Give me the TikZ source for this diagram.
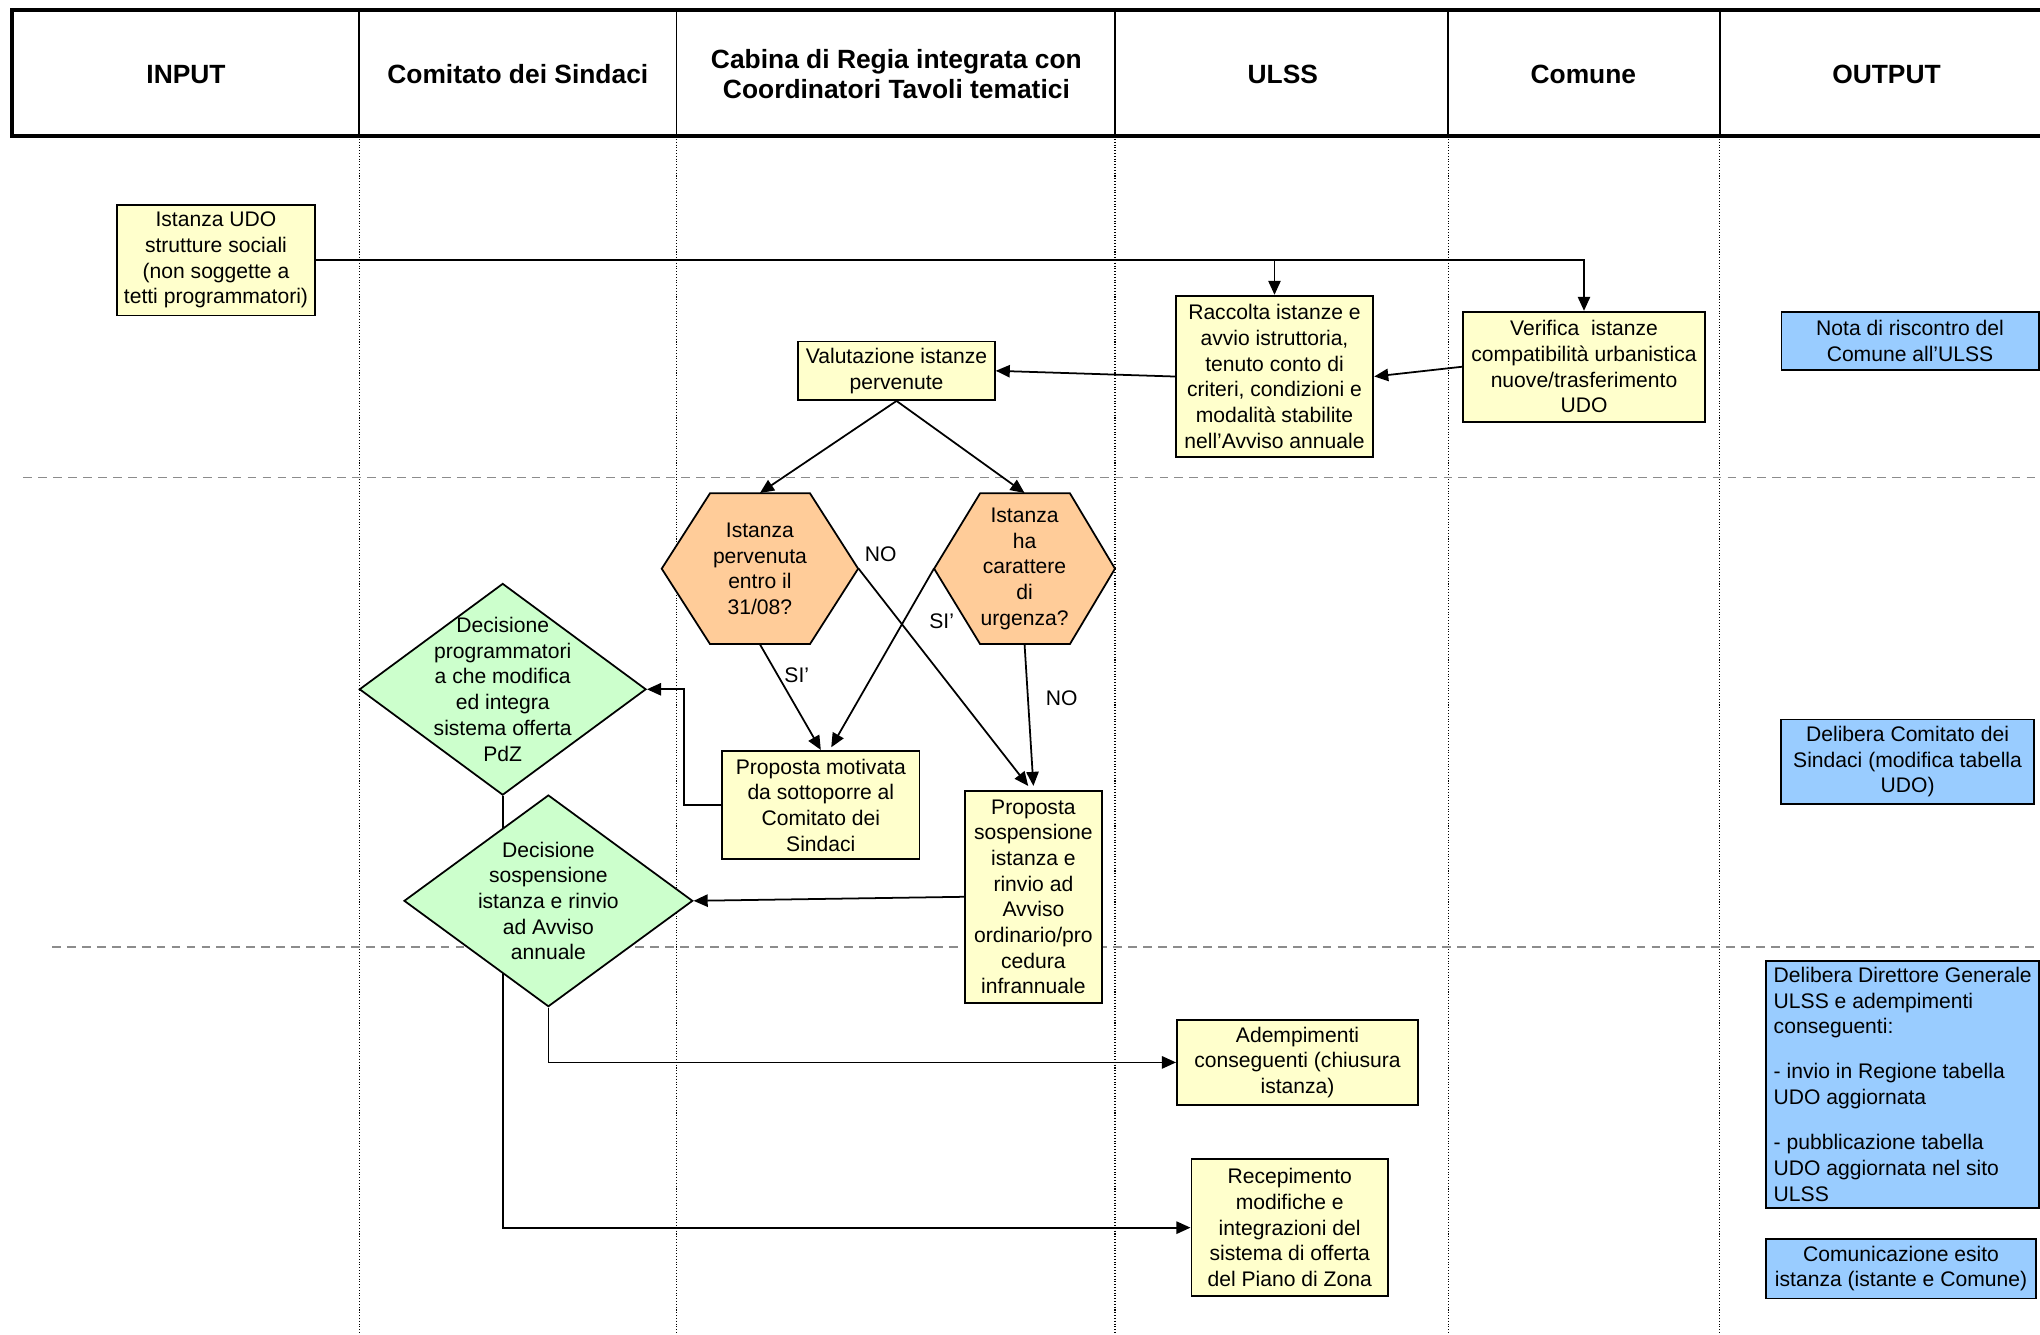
\documentclass[tikz,border=0pt]{standalone}
\usepackage{fontspec}
\setmainfont{Liberation Sans}
\usetikzlibrary{arrows.meta,shapes.geometric,calc}

\definecolor{boxyellow}{HTML}{FFFFCC}
\definecolor{hexorange}{HTML}{FFCC99}
\definecolor{diagreen}{HTML}{CCFFCC}
\definecolor{outblue}{HTML}{99CCFF}

\tikzset{
  box/.style={draw, line width=1pt, fill=boxyellow, align=center, inner sep=1pt,
    font=\fontsize{12}{14.6}\selectfont},
  outbox/.style={box, fill=outblue},
  dec/.style={diamond, draw, line width=1pt, fill=diagreen, inner sep=0pt},
  hexface/.style={draw, line width=1pt, fill=hexorange},
  lbl/.style={align=center, inner sep=0pt, font=\fontsize{12}{14.6}\selectfont},
  hdr/.style={align=center, font=\fontsize{15}{17.5}\selectfont\bfseries},
  flow/.style={->, line width=1pt},
}

\begin{document}
\begin{tikzpicture}[x=0.026cm, y=-0.026cm, >={Triangle[length=8pt,width=7pt]}]
    \useasboundingbox (0,0) rectangle (1568,1026);
    % swimlane header
    \draw[line width=2.2pt] (1568,8) -- (9,8) -- (9,104.6) -- (1568,104.6);
    \foreach \x in {276,520,857,1113,1322}
    \draw[line width=0.8pt] (\x,8) -- (\x,104.6);
    \foreach \x in {276,520,857,1113,1322}
    \draw[densely dotted, line width=0.6pt] (\x,104.6) -- (\x,1026);
    \node[hdr] (hIn) at (143,57) {INPUT};
    \node[hdr] (hCom) at (398,57) {Comitato dei Sindaci};
    \node[hdr] (hCab) at (689,57) {Cabina di Regia integrata con\\Coordinatori Tavoli tematici};
    \node[hdr] (hUlss) at (986,57) {ULSS};
    \node[hdr] (hComune) at (1217,57) {Comune};
    \node[hdr] (hOut) at (1450,57) {OUTPUT};
    % phase separators
    \draw[black!45, line width=1pt, dash pattern=on 5pt off 3.5pt] (18,367) -- (1568,367);
    \draw[black!45, line width=1pt, dash pattern=on 5pt off 3.5pt] (40,728) -- (1568,728);

    % boxes
    \node[box, minimum width=3.95cm, minimum height=2.21cm] (istUDO) at (166,200)
      {Istanza UDO\\strutture sociali\\(non soggette a\\tetti programmatori)};
    \node[box, minimum width=3.95cm, minimum height=3.23cm] (raccolta) at (979.6,289.4)
      {Raccolta istanze e\\avvio istruttoria,\\tenuto conto di\\criteri, condizioni e\\modalità stabilite\\nell’Avviso annuale};
    \node[box, minimum width=4.84cm, minimum height=2.2cm] (verif) at (1217.5,281.9)
      {Verifica~~istanze\\compatibilità urbanistica\\nuove/trasferimento\\UDO};
    \node[box, minimum width=3.93cm, minimum height=1.17cm] (valut) at (689.1,285)
      {Valutazione istanze\\pervenute};
    \node[outbox, minimum width=5.14cm, minimum height=1.16cm] (nota) at (1468.1,262)
      {Nota di riscontro del\\Comune all’ULSS};

    % decision hexagons
    \filldraw[hexface] (508.6,437.1) -- (545.7,379.2) -- (622.6,379.2) -- (659.6,437.1)
      -- (622.6,495) -- (545.7,495) -- cycle;
    \node[lbl, minimum width=3.93cm, minimum height=3.01cm] (hexPerv) at (584.1,437.1)
      {Istanza\\pervenuta\\entro il\\31/08?};
    \filldraw[hexface] (718,437.1) -- (753.3,379.2) -- (822.4,379.2) -- (857,437.1)
      -- (822.4,495) -- (753.3,495) -- cycle;
    \node[lbl, minimum width=3.61cm, minimum height=3.01cm] (hexUrg) at (787.5,437.1)
      {Istanza\\ha\\carattere\\di\\urgenza?};

    \node[box, minimum width=3.94cm, minimum height=2.17cm] (propMot) at (630.9,618.8)
      {Proposta motivata\\da sottoporre al\\Comitato dei\\Sindaci};
    \node[box, minimum width=2.73cm, minimum height=4.24cm] (propSosp) at (794.3,689.3)
      {Proposta\\sospensione\\istanza e\\rinvio ad\\Avviso\\ordinario/pro\\cedura\\infrannuale};
    \node[box, minimum width=4.82cm, minimum height=1.69cm] (adem) at (997.3,816.6)
      {Adempimenti\\conseguenti (chiusura\\istanza)};
    \node[box, minimum width=3.93cm, minimum height=2.74cm] (recep) at (991.3,943.6)
      {Recepimento\\modifiche e\\integrazioni del\\sistema di offerta\\del Piano di Zona};
    \node[outbox, minimum width=5.05cm, minimum height=1.69cm] (delCom) at (1466.2,585.5)
      {Delibera Comitato dei\\Sindaci (modifica tabella\\UDO)};
    \node[outbox, align=left, minimum width=5.46cm, minimum height=4.94cm] (delDir) at (1462.5,833.4)
      {Delibera Direttore Generale\\ULSS e adempimenti\\conseguenti:\\[11pt]- invio in Regione tabella\\UDO aggiornata\\[11pt]- pubblicazione tabella\\UDO aggiornata nel sito\\ULSS};
    \node[outbox, minimum width=5.4cm, minimum height=1.19cm] (comun) at (1461.2,975.1)
      {Comunicazione esito\\istanza (istante e Comune)};

    % diamonds
    \node[dec, minimum width=5.73cm, minimum height=4.23cm] (decProg) at (386.4,529.8) {};
    \node[lbl] (decProgTxt) at (decProg)
      {Decisione\\programmatori\\a che modifica\\ed integra\\sistema offerta\\PdZ};
    \draw[flow] (decProg.south) |- (recep.west);
    \node[dec, minimum width=5.77cm, minimum height=4.23cm] (decSosp) at (421.5,692.4) {};
    \node[lbl] (decSospTxt) at (decSosp)
      {Decisione\\sospensione\\istanza e rinvio\\ad Avviso\\annuale};

    % connectors
    \draw[flow] (istUDO.east) -| (verif.north);
    \draw[flow] (istUDO.east -| raccolta.north) -- (raccolta.north);
    \draw[flow] (verif.west) -- (raccolta.east);
    \draw[flow] (raccolta.west) -- (valut.east);
    \draw[flow] (valut.south) -- (hexPerv.north);
    \draw[flow] (valut.south) -- (hexUrg.north);
    \draw[flow] (hexPerv.south) -- (propMot.north);
    \draw[flow] (hexUrg.west) -- ($(propMot.north)+(8,-2)$);
    \draw[flow] (hexPerv.east) -- ($(propSosp.north)+(-4,-3)$);
    \draw[flow] (hexUrg.south) -- ($(propSosp.north)+(0,-3)$);
    \draw[flow] (propMot.west) -- ++(-28.7,0) |- (decProg.east);
    \draw[flow] (propSosp.west) -- (decSosp.east);
    \draw[flow] (decSosp.south) |- (adem.west);
    \node[lbl] (no1) at (677,426) {NO};
    \node[lbl] (si1) at (612.4,518.8) {SI’};
    \node[lbl] (si2) at (723.8,477.8) {SI’};
    \node[lbl] (no2) at (816,536.8) {NO};
\end{tikzpicture}
\end{document}
